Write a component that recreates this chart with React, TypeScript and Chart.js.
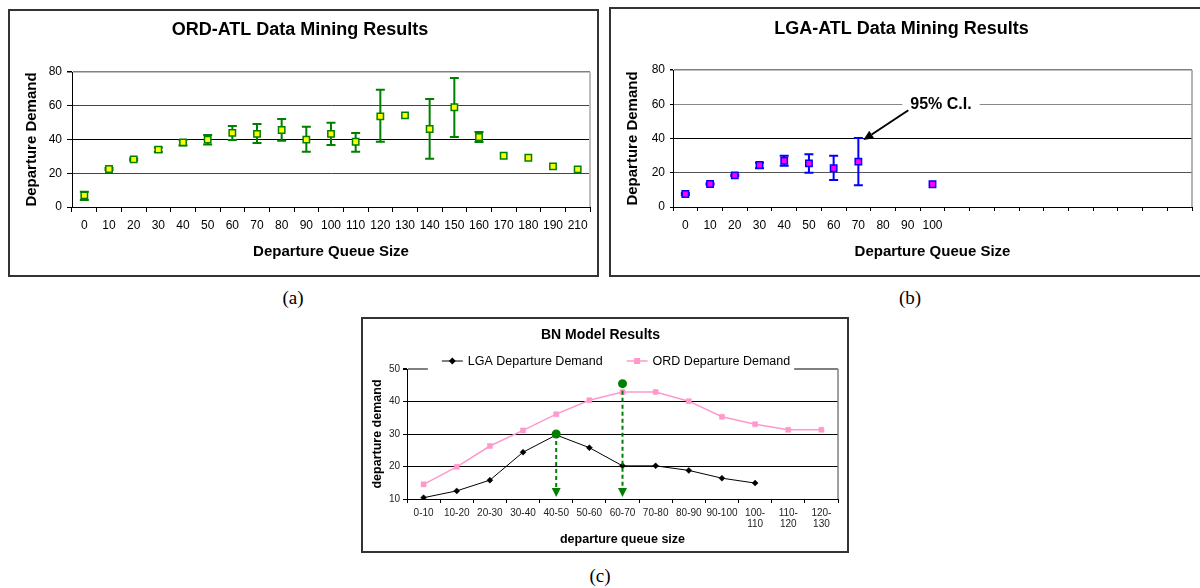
import React, { useEffect, useRef } from 'react';
import { Chart, registerables } from 'chart.js';

Chart.register(...registerables);

const FONT = 'Arial, "Liberation Sans", Helvetica, sans-serif';
Chart.defaults.font.family = FONT;

// ---------- (a) ORD-ATL data mining ----------
const ordQueueSizes = ['0', '10', '20', '30', '40', '50', '60', '70', '80', '90', '100', '110', '120', '130', '140', '150', '160', '170', '180', '190', '210'];
const ordDemand = [6.9, 22.5, 28.2, 34.0, 38.3, 39.9, 43.9, 43.3, 45.6, 39.9, 43.3, 38.7, 53.7, 54.3, 46.2, 59.1, 41.5, 30.4, 29.2, 24.1, 22.3];
const ordLower = [4.1, 21.9, 27.6, 32.6, 36.5, 37.1, 39.7, 37.9, 39.3, 32.8, 36.7, 32.8, 38.7, null, 28.6, 41.5, 38.5, null, null, null, null];
const ordUpper = [9.1, 23.1, 28.8, 35.2, 39.7, 42.7, 48.0, 49.2, 52.1, 47.6, 50.0, 43.9, 69.5, null, 64.0, 76.4, 44.4, null, null, null, null];

// ---------- (b) LGA-ATL data mining ----------
const lgaQueueSizes = ['0', '10', '20', '30', '40', '50', '60', '70', '80', '90', '100', '', '', '', '', '', '', '', '', '', ''];
const lgaDemand = [7.6, 13.4, 18.5, 24.5, 27.0, 25.5, 22.6, 26.5, null, null, 13.3, null, null, null, null, null, null, null, null, null, null];
const lgaLower = [7.0, 13.0, 18.1, 22.6, 24.1, 20.0, 15.8, 12.7, null, null, null, null, null, null, null, null, null, null, null, null, null];
const lgaUpper = [8.2, 13.8, 18.9, 25.9, 30.0, 30.8, 30.0, 40.3, null, null, null, null, null, null, null, null, null, null, null, null, null];
const ciText = '95% C.I.';
const ciTargetCategory = '70';
const ciTextCategory = '100';
const ciTextValue = 60;

// ---------- (c) BN model ----------
const bnQueueSizes: (string | string[])[] = ['0-10', '10-20', '20-30', '30-40', '40-50', '50-60', '60-70', '70-80', '80-90', '90-100', ['100-', '110'], ['110-', '120'], ['120-', '130']];
const bnLgaDemand = [10.4, 12.5, 15.8, 24.4, 29.7, 25.8, 20.2, 20.2, 18.8, 16.4, 14.9, null, null];
const bnOrdDemand = [14.5, 19.9, 26.3, 31.1, 36.1, 40.4, 42.9, 42.9, 40.1, 35.3, 33.0, 31.3, 31.3];
const bnPeakCategories = ['40-50', '60-70'];
const bnPeakValues = [30, 45.5];

// ---------- plugins ----------
const errorBarPlugin = {
  id: 'errorBars',
  beforeDatasetsDraw(chart: any) {
    const { ctx } = chart;
    const y = chart.scales.y;
    chart.data.datasets.forEach((ds: any, di: number) => {
      if (!ds.errLow) return;
      const meta = chart.getDatasetMeta(di);
      ctx.save();
      ctx.strokeStyle = ds.errColor;
      ctx.lineWidth = 2;
      meta.data.forEach((pt: any, i: number) => {
        const lo = ds.errLow[i];
        const hi = ds.errHigh[i];
        if (lo == null || hi == null) return;
        const x = pt.x;
        const y1 = y.getPixelForValue(lo);
        const y2 = y.getPixelForValue(hi);
        ctx.beginPath();
        ctx.moveTo(x, y1);
        ctx.lineTo(x, y2);
        ctx.moveTo(x - 4.5, y1);
        ctx.lineTo(x + 4.5, y1);
        ctx.moveTo(x - 4.5, y2);
        ctx.lineTo(x + 4.5, y2);
        ctx.stroke();
      });
      ctx.restore();
    });
  },
};

const plotBorder = (color: string, width: number) => ({
  id: 'plotBorder',
  beforeDatasetsDraw(chart: any) {
    const { ctx, chartArea: a } = chart;
    ctx.save();
    ctx.strokeStyle = color;
    ctx.lineWidth = width;
    ctx.beginPath();
    ctx.moveTo(a.right, a.top);
    ctx.lineTo(a.right, a.bottom);
    ctx.stroke();
    ctx.restore();
  },
});

const ciPlugin = {
  id: 'ciNote',
  afterDatasetsDraw(chart: any) {
    const { ctx } = chart;
    const x = chart.scales.x;
    const y = chart.scales.y;
    const ds: any = chart.data.datasets[0];
    const idx = lgaQueueSizes.indexOf(ciTargetCategory);
    const tipX = x.getPixelForValue(idx) + 5;
    const tipY = y.getPixelForValue(ds.errHigh[idx]) + 2;
    const tx = x.getPixelForValue(lgaQueueSizes.indexOf(ciTextCategory)) + 8.5;
    const ty = y.getPixelForValue(ciTextValue);
    ctx.save();
    ctx.font = 'bold 16px ' + FONT;
    const w = ctx.measureText(ciText).width;
    ctx.fillStyle = '#fff';
    ctx.fillRect(tx - w / 2 - 8, ty - 9, w + 16, 18);
    ctx.fillStyle = '#000';
    ctx.textAlign = 'center';
    ctx.textBaseline = 'middle';
    ctx.fillText(ciText, tx, ty);
    const sx = tx - w / 2 - 2;
    const sy = ty + 6;
    const ang = Math.atan2(tipY - sy, tipX - sx);
    const hl = 10;
    const hw = 4.5;
    const bx = tipX - hl * Math.cos(ang);
    const by = tipY - hl * Math.sin(ang);
    ctx.strokeStyle = '#000';
    ctx.lineWidth = 2;
    ctx.beginPath();
    ctx.moveTo(sx, sy);
    ctx.lineTo(bx, by);
    ctx.stroke();
    ctx.beginPath();
    ctx.moveTo(tipX, tipY);
    ctx.lineTo(bx + hw * Math.sin(ang), by - hw * Math.cos(ang));
    ctx.lineTo(bx - hw * Math.sin(ang), by + hw * Math.cos(ang));
    ctx.closePath();
    ctx.fill();
    ctx.restore();
  },
};

const peakPlugin = {
  id: 'peaks',
  afterDatasetsDraw(chart: any) {
    const { ctx } = chart;
    const x = chart.scales.x;
    const y = chart.scales.y;
    ctx.save();
    bnPeakCategories.forEach((cat, k) => {
      const i = bnQueueSizes.indexOf(cat);
      const px = x.getPixelForValue(i);
      const py = y.getPixelForValue(bnPeakValues[k]);
      const bottom = y.getPixelForValue(y.min) - 2;
      ctx.strokeStyle = '#008000';
      ctx.fillStyle = '#008000';
      ctx.lineWidth = 2;
      ctx.setLineDash([4, 3]);
      ctx.beginPath();
      ctx.moveTo(px, py);
      ctx.lineTo(px, bottom - 7);
      ctx.stroke();
      ctx.setLineDash([]);
      ctx.beginPath();
      ctx.moveTo(px - 4.5, bottom - 9);
      ctx.lineTo(px + 4.5, bottom - 9);
      ctx.lineTo(px, bottom);
      ctx.closePath();
      ctx.fill();
      ctx.beginPath();
      ctx.arc(px, py, 4.5, 0, Math.PI * 2);
      ctx.fill();
    });
    ctx.restore();
  },
};

const excelLegend = {
  id: 'excelLegend',
  afterDraw(chart: any) {
    const { ctx } = chart;
    const cy = 42;
    const cx = 253;
    ctx.save();
    ctx.font = '12.5px ' + FONT;
    const items = chart.data.datasets.map((ds: any) => ({
      label: ds.label,
      color: ds.borderColor,
      style: ds.pointStyle,
      lw: ds.borderWidth,
      w: ctx.measureText(ds.label).width,
    }));
    const gap = 24;
    const total = items.reduce((s: number, it: any) => s + 26 + it.w, 0) + gap * (items.length - 1);
    let x = cx - total / 2;
    ctx.fillStyle = '#fff';
    ctx.fillRect(x - 14, cy - 9, total + 18, 19);
    items.forEach((it: any) => {
      ctx.strokeStyle = it.color;
      ctx.lineWidth = it.lw;
      ctx.beginPath();
      ctx.moveTo(x, cy);
      ctx.lineTo(x + 21, cy);
      ctx.stroke();
      ctx.fillStyle = it.color;
      const mx = x + 10.5;
      if (it.style === 'rectRot') {
        ctx.beginPath();
        ctx.moveTo(mx, cy - 3.5);
        ctx.lineTo(mx + 3.5, cy);
        ctx.lineTo(mx, cy + 3.5);
        ctx.lineTo(mx - 3.5, cy);
        ctx.closePath();
        ctx.fill();
      } else {
        ctx.fillRect(mx - 3, cy - 3, 6, 6);
      }
      ctx.fillStyle = '#000';
      ctx.textAlign = 'left';
      ctx.textBaseline = 'middle';
      ctx.fillText(it.label, x + 26, cy + 0.5);
      x += 26 + it.w + gap;
    });
    ctx.restore();
  },
};

// ---------- chart configs ----------
function makeMiningConfig(opts: {
  title: string;
  labels: string[];
  values: (number | null)[];
  low: (number | null)[];
  high: (number | null)[];
  fill: string;
  border: string;
  errColor: string;
  rightPad: number;
  titlePad: { top: number; bottom: number };
  xHeight: number;
  xTick: number;
  xPad: number;
  yTick: number;
  yPad: number;
  gridColors: { [k: number]: string };
  extraPlugins: any[];
}): any {
  return {
    type: 'line',
    data: {
      labels: opts.labels,
      datasets: [
        {
          label: opts.title,
          data: opts.values,
          showLine: false,
          pointStyle: 'rect',
          pointRadius: 4.5,
          pointBackgroundColor: opts.fill,
          pointBorderColor: opts.border,
          pointBorderWidth: 1.5,
          errLow: opts.low,
          errHigh: opts.high,
          errColor: opts.errColor,
        },
      ],
    },
    options: {
      responsive: false,
      animation: false,
      events: [],
      layout: { padding: { top: 0, right: opts.rightPad, bottom: 0, left: 0 } },
      plugins: {
        legend: { display: false },
        tooltip: { enabled: false },
        title: {
          display: true,
          text: opts.title,
          color: '#000',
          font: { size: 18, weight: 'bold' },
          padding: opts.titlePad,
        },
      },
      scales: {
        x: {
          type: 'category',
          offset: true,
          grid: { display: true, offset: true, drawOnChartArea: false, drawTicks: true, tickLength: opts.xTick, color: '#000' },
          border: { display: true, color: '#000', width: 1 },
          ticks: { color: '#000', font: { size: 12 }, padding: opts.xPad, maxRotation: 0, autoSkip: false },
          title: {
            display: true,
            text: 'Departure Queue Size',
            color: '#000',
            font: { size: 15, weight: 'bold' },
            padding: { top: 0, bottom: 14 },
          },
          afterFit: (s: any) => {
            s.height = opts.xHeight;
          },
        },
        y: {
          min: 0,
          max: 80,
          ticks: { stepSize: 20, color: '#000', font: { size: 12 }, padding: opts.yPad },
          grid: {
            color: (c: any) => (c.tick ? opts.gridColors[c.tick.value] || '#444' : '#444'),
            lineWidth: (c: any) => (c.tick && c.tick.value === 80 ? 1.5 : 1),
            tickColor: '#000',
            tickLength: opts.yTick,
            drawTicks: true,
          },
          border: { display: true, color: '#000', width: 1 },
          title: {
            display: true,
            text: 'Departure Demand',
            color: '#000',
            font: { size: 15, weight: 'bold' },
            padding: { top: 13, bottom: 0 },
          },
          afterFit: (s: any) => {
            s.width = 62;
          },
        },
      },
    },
    plugins: [errorBarPlugin, ...opts.extraPlugins],
  };
}

const makeOrdConfig = () =>
  makeMiningConfig({
    title: 'ORD-ATL Data Mining Results',
    labels: ordQueueSizes,
    values: ordDemand,
    low: ordLower,
    high: ordUpper,
    fill: '#FFFF00',
    border: '#008000',
    errColor: '#008000',
    rightPad: 7,
    titlePad: { top: 8, bottom: 31.4 },
    xHeight: 68,
    xTick: 5,
    xPad: 6,
    yTick: 5,
    yPad: 5,
    gridColors: { 20: '#444', 40: '#000', 60: '#444', 80: '#808080' },
    extraPlugins: [plotBorder('#bdbdbd', 2)],
  });

const makeLgaConfig = () =>
  makeMiningConfig({
    title: 'LGA-ATL Data Mining Results',
    labels: lgaQueueSizes,
    values: lgaDemand,
    low: lgaLower,
    high: lgaUpper,
    fill: '#FF00FF',
    border: '#0000FF',
    errColor: '#0000FF',
    rightPad: 8,
    titlePad: { top: 9, bottom: 30.4 },
    xHeight: 68,
    xTick: 4,
    xPad: 7,
    yTick: 3,
    yPad: 5,
    gridColors: { 20: '#555', 40: '#000', 60: '#888', 80: '#808080' },
    extraPlugins: [plotBorder('#9a9a9a', 1.5), ciPlugin],
  });

const makeBnConfig = (): any => ({
  type: 'line',
  data: {
    labels: bnQueueSizes,
    datasets: [
      {
        label: 'LGA Departure Demand',
        data: bnLgaDemand,
        borderColor: '#000000',
        backgroundColor: '#000000',
        borderWidth: 1,
        pointStyle: 'rectRot',
        pointRadius: 3,
        pointBackgroundColor: '#000000',
        pointBorderColor: '#000000',
        pointBorderWidth: 0.5,
        tension: 0,
      },
      {
        label: 'ORD Departure Demand',
        data: bnOrdDemand,
        borderColor: '#FF99CC',
        backgroundColor: '#FF99CC',
        borderWidth: 1.5,
        pointStyle: 'rect',
        pointRadius: 3.6,
        pointBackgroundColor: '#FF99CC',
        pointBorderColor: '#FF99CC',
        pointBorderWidth: 0.5,
        tension: 0,
      },
    ],
  },
  options: {
    responsive: false,
    animation: false,
    events: [],
    layout: { padding: { top: 0, right: 9, bottom: 0, left: 0 } },
    plugins: {
      legend: { display: false },
      tooltip: { enabled: false },
      title: {
        display: true,
        text: 'BN Model Results',
        color: '#000',
        font: { size: 14, weight: 'bold' },
        padding: { top: 7.6, bottom: 25.6 },
      },
    },
    scales: {
      x: {
        type: 'category',
        offset: true,
        grid: { display: true, offset: true, drawOnChartArea: false, drawTicks: true, tickLength: 4, color: '#000' },
        border: { display: true, color: '#000', width: 1 },
        ticks: { color: '#222', font: { size: 10, lineHeight: 1.15 }, padding: 4, maxRotation: 0, autoSkip: false },
        title: {
          display: true,
          text: 'departure queue size',
          color: '#000',
          font: { size: 12.5, weight: 'bold' },
          padding: { top: 0, bottom: 3.5 },
        },
        afterFit: (s: any) => {
          s.height = 52;
        },
      },
      y: {
        min: 10,
        max: 50,
        ticks: { stepSize: 10, color: '#222', font: { size: 10 }, padding: 3 },
        grid: {
          color: (c: any) => (c.tick && c.tick.value === 50 ? '#808080' : '#000'),
          lineWidth: (c: any) => (c.tick && c.tick.value === 50 ? 2 : 1),
          tickColor: '#000',
          tickLength: 4,
          drawTicks: true,
        },
        border: { display: true, color: '#000', width: 1 },
        title: {
          display: true,
          text: 'departure demand',
          color: '#000',
          font: { size: 12.5, weight: 'bold' },
          padding: { top: 7.5, bottom: 0 },
        },
        afterFit: (s: any) => {
          s.width = 44;
        },
      },
    },
  },
  plugins: [plotBorder('#808080', 1.5), peakPlugin, excelLegend],
});

function ChartCanvas({ width, height, make }: { width: number; height: number; make: () => any }) {
  const ref = useRef<HTMLCanvasElement>(null);
  useEffect(() => {
    if (!ref.current) return;
    const chart = new Chart(ref.current, make());
    return () => chart.destroy();
  }, []);
  return <canvas ref={ref} width={width} height={height} style={{ display: 'block', width, height }} />;
}

const frame = (left: number, top: number, width: number, height: number): React.CSSProperties => ({
  position: 'absolute',
  left,
  top,
  width,
  height,
  border: '2px solid #333',
  boxSizing: 'border-box',
  background: '#fff',
});

const caption = (cx: number, cy: number): React.CSSProperties => ({
  position: 'absolute',
  left: cx - 30,
  top: cy - 11,
  width: 60,
  lineHeight: '22px',
  textAlign: 'center',
  fontFamily: '"Times New Roman", "Liberation Serif", serif',
  fontSize: 19,
  color: '#000',
});

export default function App() {
  return (
    <div style={{ position: 'absolute', left: 0, top: 0, width: 1200, height: 588, overflow: 'hidden', background: '#fff' }}>
      <div style={frame(8, 9, 591, 268)}>
        <ChartCanvas width={587} height={264} make={makeOrdConfig} />
      </div>
      <div style={frame(609, 7, 593, 270)}>
        <ChartCanvas width={589} height={266} make={makeLgaConfig} />
      </div>
      <div style={frame(361, 317, 488, 236)}>
        <ChartCanvas width={484} height={232} make={makeBnConfig} />
      </div>
      <div style={caption(293, 298)}>(a)</div>
      <div style={caption(910, 298)}>(b)</div>
      <div style={caption(600, 576)}>(c)</div>
    </div>
  );
}
